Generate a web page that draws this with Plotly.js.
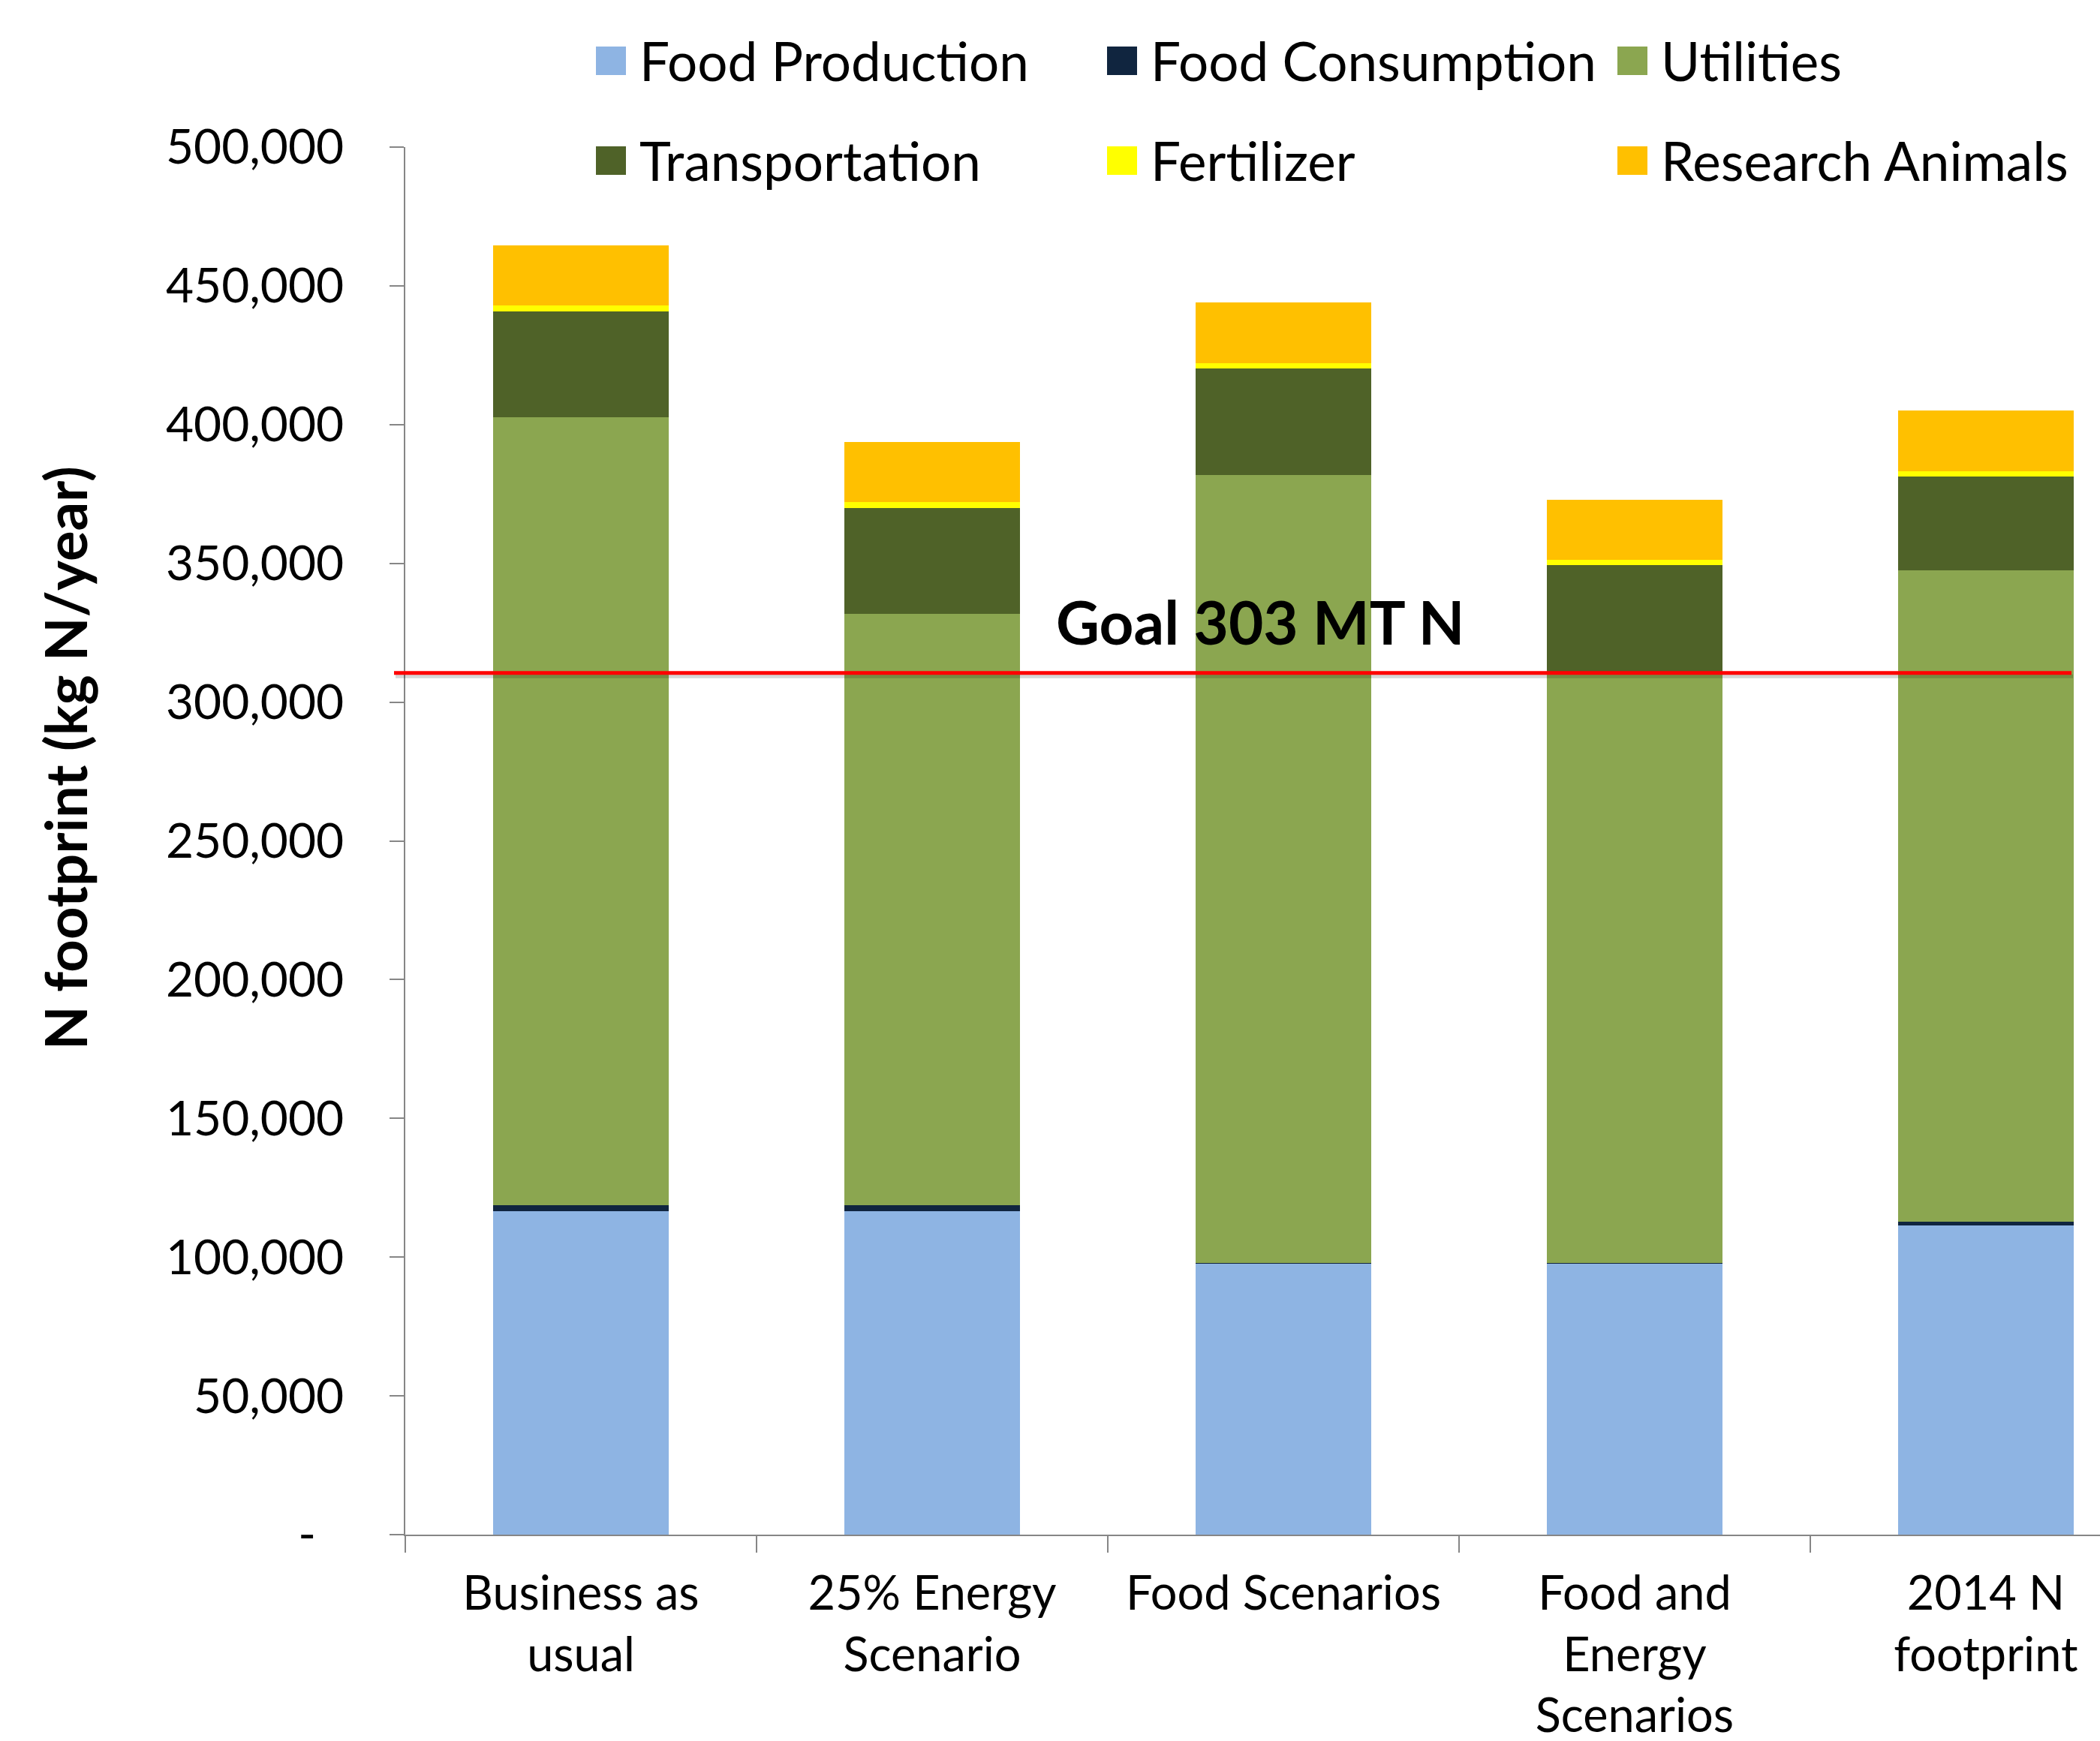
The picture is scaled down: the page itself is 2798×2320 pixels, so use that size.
<!DOCTYPE html>
<html>
<head>
<meta charset="utf-8">
<script src="https://cdn.plot.ly/plotly-3.0.1.min.js"></script>
<style>html,body{margin:0;padding:0;background:#fff;overflow:hidden}</style>
</head>
<body>
<div id="chart" style="width:2798px;height:2320px"></div>
<script>
// ---- data ----
const categories = ['Business as<br>usual', '25% Energy<br>Scenario', 'Food Scenarios', 'Food and<br>Energy<br>Scenarios', '2014 N<br>footprint'];
const foodProduction  = [116600, 116600, 97500, 97500, 111400];
const foodConsumption = [2000, 2000, 400, 400, 1300];
const utilities       = [284000, 213100, 284000, 213100, 234700];
const transportation  = [38300, 38300, 38200, 38300, 33800];
const fertilizer      = [2000, 2000, 2000, 2000, 2000];
const researchAnimals = [21700, 21600, 21900, 21700, 21800];
const seriesNames = ['Food Production', 'Food Consumption', 'Utilities', 'Transportation', 'Fertilizer', 'Research Animals'];
const seriesColors = ['#8EB4E3', '#10253F', '#8BA650', '#4F6228', '#FFFF00', '#FFC000'];
const yTickVals = [0, 50000, 100000, 150000, 200000, 250000, 300000, 350000, 400000, 450000, 500000];
const yTickText = ['-\u2007', '50,000', '100,000', '150,000', '200,000', '250,000', '300,000', '350,000', '400,000', '450,000', '500,000'];
const goalValue = 310500;
const goalLabel = 'Goal 303 MT N';
const yTitle = 'N footprint (kg N/year)';

const seriesValues = [foodProduction, foodConsumption, utilities, transportation, fertilizer, researchAnimals];

// ---- layout geometry ----
const W = 2798, H = 2320;
const L = 540, R = 2798, T = 196, B = 2045;
const px = x => (x - L) / (R - L);
const py = y => (B - y) / (B - T);
const FONT = 'Lato, "Open Sans", sans-serif';

const traces = seriesNames.map((name, i) => ({
  type: 'bar',
  name: name,
  x: categories,
  y: seriesValues[i],
  marker: {color: seriesColors[i], line: {width: 0}},
  hoverinfo: 'x+y+name'
}));

const shapes = [];
const annotations = [];

// goal line with soft shadow
shapes.push({type: 'rect', xref: 'paper', yref: 'y', ysizemode: 'pixel', yanchor: goalValue,
  x0: px(527), x1: px(2762), y0: -2, y1: -7, fillcolor: 'rgba(0,0,0,0.16)', line: {width: 0}, layer: 'above'});
shapes.push({type: 'line', xref: 'paper', yref: 'y', x0: px(525), x1: px(2760), y0: goalValue, y1: goalValue,
  line: {color: '#FF0000', width: 5}, layer: 'above'});

annotations.push({xref: 'paper', yref: 'paper', x: px(1405), y: py(828), xanchor: 'left', yanchor: 'middle',
  text: '<b>' + goalLabel + '</b>', showarrow: false, font: {family: FONT, size: 80, color: '#000'}});

// y title
annotations.push({xref: 'paper', yref: 'paper', x: px(86), y: py(1010), xanchor: 'center', yanchor: 'middle',
  text: '<b>' + yTitle + '</b>', textangle: -90, showarrow: false, font: {family: FONT, size: 76, color: '#000'}});

// custom legend (3 columns x 2 rows)
const colX = [794, 1475, 2155];
const rowTop = [62, 195];
seriesNames.forEach((name, i) => {
  const c = i % 3, r = Math.floor(i / 3);
  shapes.push({type: 'rect', xref: 'paper', yref: 'paper', x0: px(colX[c]), x1: px(colX[c] + 40),
    y0: py(rowTop[r] + 38), y1: py(rowTop[r]), fillcolor: seriesColors[i], line: {width: 0}});
  annotations.push({xref: 'paper', yref: 'paper', x: px(colX[c] + 56), y: py(rowTop[r] + 19),
    xanchor: 'left', yanchor: 'middle', text: name, showarrow: false,
    font: {family: FONT, size: 71, color: '#000'}});
});

const layout = {
  width: W, height: H,
  margin: {l: L, r: W - R, t: T, b: H - B, pad: 0},
  paper_bgcolor: '#fff', plot_bgcolor: '#fff',
  barmode: 'stack', bargap: 0.5,
  showlegend: false,
  font: {family: FONT, color: '#000'},
  xaxis: {
    type: 'category', range: [-0.5, 4.325], tickson: 'boundaries',
    ticks: 'outside', ticklen: 22, tickwidth: 2, tickcolor: '#868686',
    showline: true, linecolor: '#868686', linewidth: 2,
    showgrid: false, zeroline: false,
    tickfont: {family: FONT, size: 63, color: '#000'},
    ticklabelstandoff: 22
  },
  yaxis: {
    range: [0, 500000], tickmode: 'array', tickvals: yTickVals, ticktext: yTickText,
    ticks: 'outside', ticklen: 19, tickwidth: 2, tickcolor: '#868686',
    showline: true, linecolor: '#868686', linewidth: 2,
    showgrid: false, zeroline: false,
    tickfont: {family: FONT, size: 64, color: '#000'},
    ticklabelstandoff: 48
  },
  shapes: shapes,
  annotations: annotations
};

Plotly.newPlot('chart', traces, layout, {displayModeBar: false, staticPlot: true});
</script>
</body>
</html>
